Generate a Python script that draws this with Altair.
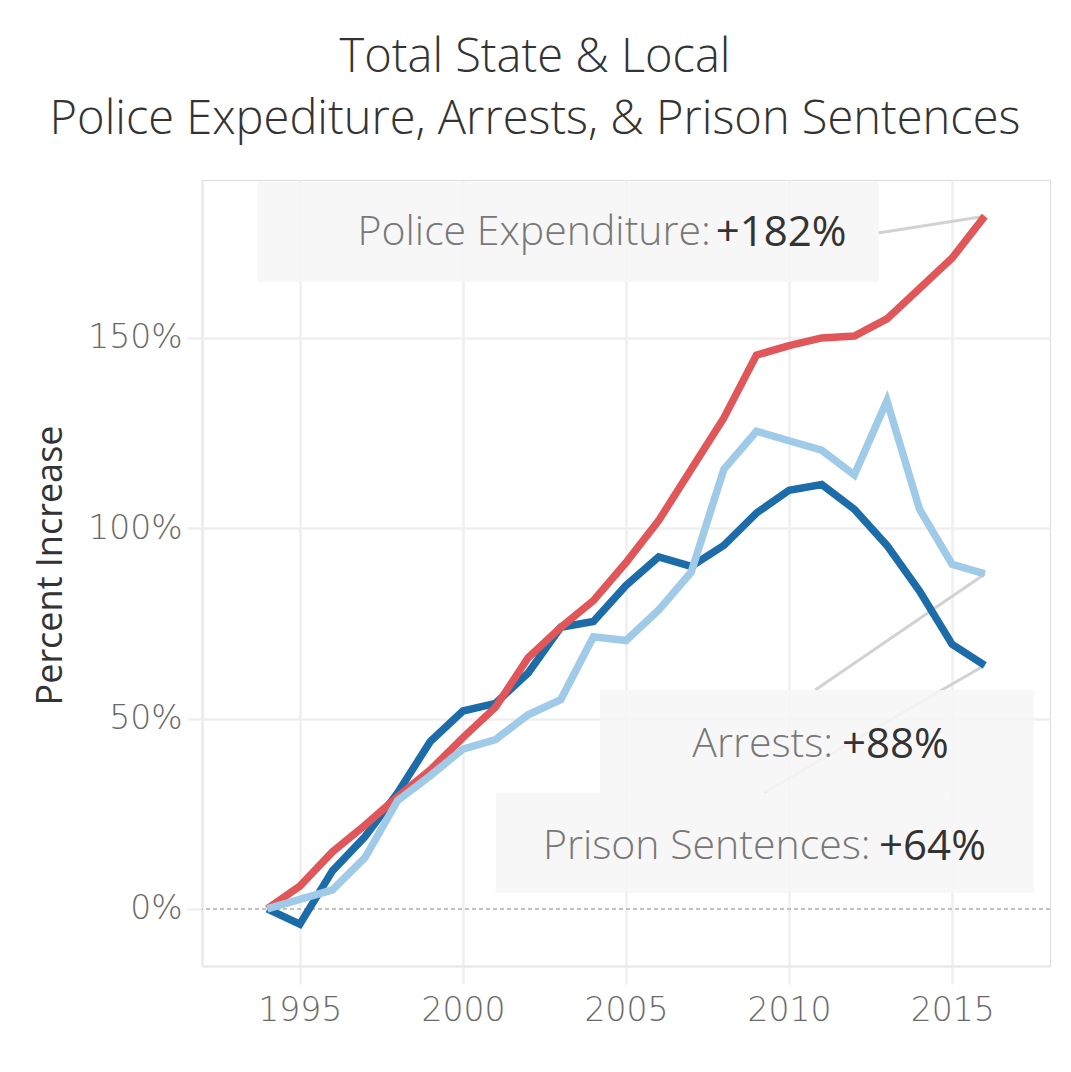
import altair as alt
import pandas as pd

# ---------------- data ----------------
years = list(range(1994, 2017))
police_expenditure = [0, 6, 15, 22, 29.5, 36.5, 45, 53, 66, 74, 81, 91, 102, 115.5,
                      129, 145.5, 148, 150, 150.5, 155, 163, 171, 182]
arrests = [0, 2.5, 5, 13.5, 28.5, 35, 42, 44.5, 51, 55, 71.5, 70.5, 78.5, 88.5,
           115.5, 125.5, 123, 120.5, 114, 133.5, 105, 90.5, 88]
prison_sentences = [0, -4, 10, 19, 30.5, 44, 52, 54, 62, 74, 75.5, 85, 92.5, 90,
                    95.5, 104, 110, 111.5, 105, 95.5, 83.5, 69.5, 64]

series_names = ["Prison Sentences", "Police Expenditure", "Arrests"]
series_values = [prison_sentences, police_expenditure, arrests]
series_colors = ["#1b6ca8", "#e15759", "#9fcae8"]

x_ticks = [1995, 2000, 2005, 2010, 2015]
y_ticks = [0, 50, 100, 150]
title_lines = ["Total State & Local", "Police Expediture, Arrests, & Prison Sentences"]
y_title = "Percent Increase"

ann_labels = ["Police Expenditure:", "Arrests:", "Prison Sentences:"]
ann_values = ["+182%", "+88%", "+64%"]
ann_series = ["Police Expenditure", "Arrests", "Prison Sentences"]

# ---------------- annotation layout (data units) ----------------
box_x = [1993.7, 2004.2, 2001.0]
box_x2 = [2012.75, 2017.5, 2017.5]
box_y = [191.0, 57.5, 30.5]
box_y2 = [164.7, 30.5, 4.2]
label_end_x = [2007.6, 2011.35, 2012.5]
value_start_x = [2007.75, 2011.62, 2012.76]
text_y = [177.6, 43.0, 16.3]
leader_start_x = [2012.73, 2010.8, 2009.23]
leader_start_y = [177.6, 57.5, 30.5]

# ---------------- tables ----------------
rows = []
for name, vals in zip(series_names, series_values):
    for yr, v in zip(years, vals):
        rows.append({"year": yr, "value": v, "series": name})
df = pd.DataFrame(rows)

last_vals = {n: v[-1] for n, v in zip(series_names, series_values)}
ann = pd.DataFrame({
    "series": ann_series,
    "label": ann_labels,
    "val": ann_values,
    "bx": box_x, "bx2": box_x2, "by": box_y, "by2": box_y2,
    "lx": label_end_x, "vx": value_start_x, "ty": text_y,
    "sx": leader_start_x, "sy": leader_start_y,
    "ex": [years[-1]] * 3,
    "ey": [last_vals[s] for s in ann_series],
})

xscale = alt.Scale(domain=[1992, 2018], nice=False, zero=False)
yscale = alt.Scale(domain=[-15, 191.5], nice=False, zero=False)

grid_c = "#efefef"
x_axis = alt.Axis(values=x_ticks, format="d", title="", grid=True,
                  gridColor=grid_c, gridWidth=2.5, tickColor=grid_c, tickWidth=2.5,
                  tickSize=18, domainColor="#eaeaea", domainWidth=2.5,
                  labelFont="DejaVu Sans", labelFontSize=33, labelFontWeight=200,
                  labelColor="#6a6a6a", labelPadding=10)
y_axis = alt.Axis(values=y_ticks, labelExpr="datum.value + '%'", title=y_title,
                  grid=True,
                  gridColor={"condition": {"test": "datum.value === 0", "value": "transparent"},
                             "value": grid_c},
                  gridWidth=2.5, tickColor=grid_c, tickWidth=2.5, tickSize=15,
                  domainColor="#eaeaea", domainWidth=2.5,
                  labelFont="DejaVu Sans", labelFontSize=33, labelFontWeight=200,
                  labelColor="#6a6a6a", labelPadding=5,
                  titleFont="Open Sans", titleFontSize=36, titleFontWeight="normal",
                  titleColor="#333333", titleAngle=270, titleAlign="center",
                  titleBaseline="middle", titleX=-152, titleY=385)


def X(field):
    return alt.X(field, scale=xscale, axis=x_axis)


def Y(field):
    return alt.Y(field, scale=yscale, axis=y_axis)


base = alt.Chart(df)

zero = alt.Chart(pd.DataFrame({"value": [0]})).mark_rule(
    color="#c2c2c2", strokeWidth=2, strokeDash=[4, 3]
).encode(y=Y("value:Q"))

leaders = alt.Chart(ann).mark_rule(color="#d2d2d2", strokeWidth=3).encode(
    x=X("sx:Q"), y=Y("sy:Q"), x2="ex:Q", y2="ey:Q",
)

line_layers = []
for name, col in zip(series_names, series_colors):
    line_layers.append(
        base.transform_filter(alt.datum.series == name).mark_line(
            color=col, strokeWidth=7.5
        ).encode(x=X("year:Q"), y=Y("value:Q"))
    )

boxes = alt.Chart(ann).mark_rect(color="#f6f6f6", opacity=0.88).encode(
    x=X("bx:Q"), x2="bx2:Q", y=Y("by:Q"), y2="by2:Q",
)

labels = alt.Chart(ann).mark_text(
    align="right", baseline="middle", font="Open Sans", fontSize=41, fontWeight=300,
    color="#787878"
).encode(x=X("lx:Q"), y=Y("ty:Q"), text="label:N")

values = alt.Chart(ann).mark_text(
    align="left", baseline="middle", font="Open Sans", fontSize=42, fontWeight=500,
    color="#333333"
).encode(x=X("vx:Q"), y=Y("ty:Q"), text="val:N")

chart = alt.layer(
    zero, leaders, *line_layers, boxes, labels, values
).properties(
    width=848, height=786,
    autosize=alt.AutoSizeParams(type="none"),
    padding={"left": 202, "top": 180, "right": 21, "bottom": 106},
    title=alt.TitleParams(text=title_lines, font="Open Sans", fontSize=47, fontWeight=300,
                          color="#333333", anchor="middle", frame="group", dx=-91,
                          offset=36, lineHeight=62),
).configure_view(stroke="transparent").configure(background="white")

chart.save("out.html", embed_options={"renderer": "svg", "actions": False})
